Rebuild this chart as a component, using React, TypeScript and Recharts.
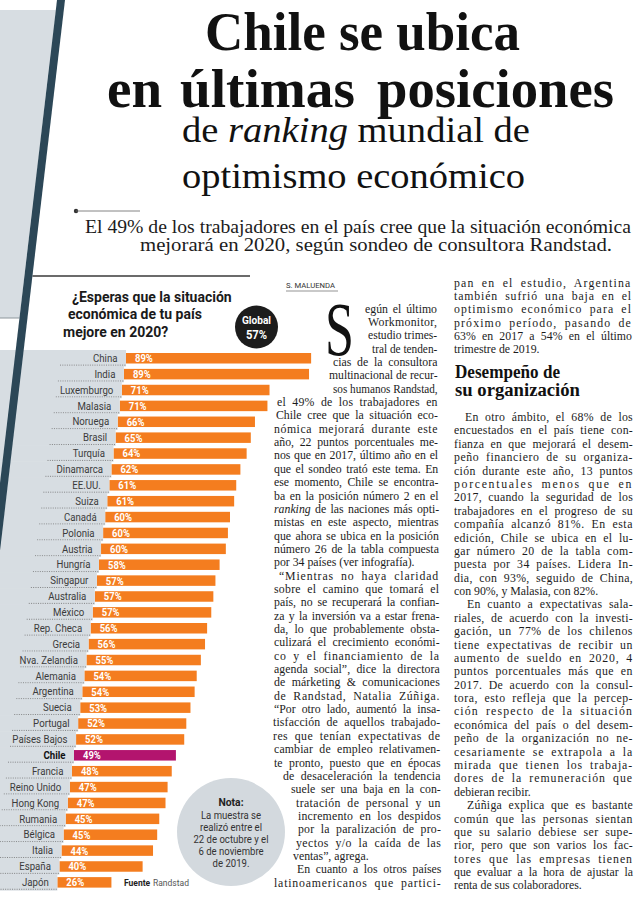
import React from 'react';
import { BarChart, Bar, XAxis, YAxis } from 'recharts';

// ---------- chart data ----------
const countries = [
  'China', 'India', 'Luxemburgo', 'Malasia', 'Noruega', 'Brasil', 'Turquía', 'Dinamarca',
  'EE.UU.', 'Suiza', 'Canadá', 'Polonia', 'Austria', 'Hungría', 'Singapur', 'Australia',
  'México', 'Rep. Checa', 'Grecia', 'Nva. Zelandia', 'Alemania', 'Argentina', 'Suecia',
  'Portugal', 'Países Bajos', 'Chile', 'Francia', 'Reino Unido', 'Hong Kong', 'Rumania',
  'Bélgica', 'Italia', 'España', 'Japón',
];
const optimism = [
  89, 89, 71, 71, 66, 65, 64, 62, 61, 61, 60, 60, 60, 58, 57, 57, 57, 56, 56, 55, 54, 54, 53,
  52, 52, 49, 48, 47, 47, 45, 45, 44, 40, 26,
];
const highlightCountry = 'Chile';
const globalAverage = 57;
const chartTitle = ['¿Esperas que la situación', 'económica de tu país', 'mejore en 2020?'];
const noteLines = ['La muestra se', 'realizó entre el', '22 de octubre y el', '6 de noviembre', 'de 2019.'];

const data = countries.map((country, i) => ({ country, value: optimism[i] }));

// ---------- article text ----------
const headline = { l1: 'Chile se ubica', l2: ['en', 'últimas', 'posiciones'], l3: ['de ', 'ranking', ' mundial de'], l4: 'optimismo económico' };
const dek = [
  'El 49% de los trabajadores en el país cree que la situación económica',
  'mejorará en 2020, según sondeo de consultora Randstad.',
];

// [left, text, isParagraphEnd]
const columnB: [number, string, boolean?][] = [
  [365, 'egún el último'],
  [368, 'Workmonitor,'],
  [368, 'estudio trimes-'],
  [372, 'tral de tenden-'],
  [333, 'cias de la consultora'],
  [329, 'multinacional de recur-'],
  [333, 'sos humanos Randstad,'],
  [277, 'el 49% de los trabajadores en'],
  [276, 'Chile cree que la situación eco-'],
  [274, 'nómica mejorará durante este'],
  [274, 'año, 22 puntos porcentuales me-'],
  [274, 'nos que en 2017, último año en el'],
  [274, 'que el sondeo trató este tema. En'],
  [274, 'ese momento, Chile se encontra-'],
  [274, 'ba en la posición número 2 en el'],
  [274, '*ranking* de las naciones más opti-'],
  [274, 'mistas en este aspecto, mientras'],
  [274, 'que ahora se ubica en la posición'],
  [274, 'número 26 de la tabla compuesta'],
  [274, 'por 34 países (ver infografía).', true],
  [279, '“Mientras no haya claridad'],
  [274, 'sobre el camino que tomará el'],
  [274, 'país, no se recuperará la confian-'],
  [274, 'za y la inversión va a estar frena-'],
  [274, 'da, lo que probablemente obsta-'],
  [274, 'culizará el crecimiento económi-'],
  [274, 'co y el financiamiento de la'],
  [274, 'agenda social”, dice la directora'],
  [274, 'de márketing & comunicaciones'],
  [274, 'de Randstad, Natalia Zúñiga.'],
  [274, '“Por otro lado, aumentó la insa-'],
  [273, 'tisfacción de aquellos trabajado-'],
  [273, 'res que tenían expectativas de'],
  [274, 'cambiar de empleo relativamen-'],
  [274, 'te pronto, puesto que en épocas'],
  [283, 'de desaceleración la tendencia'],
  [291, 'suele ser una baja en la con-'],
  [296, 'tratación de personal y un'],
  [298, 'incremento en los despidos'],
  [298, 'por la paralización de pro-'],
  [296, 'yectos y/o la caída de las'],
  [293, 'ventas”, agrega.', true],
  [297, 'En cuanto a los otros países'],
  [274, 'latinoamericanos que partici-'],
];

const columnCTop: [number, string, boolean?][] = [
  [454, 'pan en el estudio, Argentina'],
  [454, 'también sufrió una baja en el'],
  [454, 'optimismo económico para el'],
  [454, 'próximo período, pasando de'],
  [454, '63% en 2017 a 54% en el último'],
  [454, 'trimestre de 2019.', true],
];
const sectionHead = ['Desempeño de', 'su organización'];
const columnC: [number, string, boolean?][] = [
  [465, 'En otro ámbito, el 68% de los'],
  [454, 'encuestados en el país tiene con-'],
  [454, 'fianza en que mejorará el desem-'],
  [454, 'peño financiero de su organiza-'],
  [454, 'ción durante este año, 13 puntos'],
  [454, 'porcentuales menos que en'],
  [454, '2017, cuando la seguridad de los'],
  [454, 'trabajadores en el progreso de su'],
  [454, 'compañía alcanzó 81%. En esta'],
  [454, 'edición, Chile se ubica en el lu-'],
  [454, 'gar número 20 de la tabla com-'],
  [454, 'puesta por 34 países. Lidera In-'],
  [454, 'dia, con 93%, seguido de China,'],
  [454, 'con 90%, y Malasia, con 82%.', true],
  [467, 'En cuanto a expectativas sala-'],
  [454, 'riales, de acuerdo con la investi-'],
  [454, 'gación, un 77% de los chilenos'],
  [454, 'tiene expectativas de recibir un'],
  [454, 'aumento de sueldo en 2020, 4'],
  [454, 'puntos porcentuales más que en'],
  [454, '2017. De acuerdo con la consul-'],
  [454, 'tora, esto refleja que la percep-'],
  [454, 'ción respecto de la situación'],
  [454, 'económica del país o del desem-'],
  [454, 'peño de la organización no ne-'],
  [454, 'cesariamente se extrapola a la'],
  [454, 'mirada que tienen los trabaja-'],
  [454, 'dores de la remuneración que'],
  [454, 'debieran recibir.', true],
  [467, 'Zúñiga explica que es bastante'],
  [454, 'común que las personas sientan'],
  [454, 'que su salario debiese ser supe-'],
  [454, 'rior, pero que son varios los fac-'],
  [454, 'tores que las empresas tienen'],
  [454, 'que evaluar a la hora de ajustar la'],
  [454, 'renta de sus colaboradores.', true],
];

// ---------- styles ----------
const ORANGE = '#f47d1f';
const MAGENTA = '#b3146e';
const PANEL = '#d7dde2';
const NOTE_BG = '#d3d9de';
const STRIPE = '#2c4757';
const INK = '#1c1c1c';
const SERIF_NAME = 'Liberation Serif';
const SERIF = '"Liberation Serif", "Times New Roman", serif';
const SANS = 'Roboto, "Open Sans", sans-serif';
const BODY_SIZE = 11.8;

const CHART_TOP = 300;
const CHART_W = 340;
const CHART_H = 600;
const MARGIN = { top: 50, right: 6, bottom: 10, left: 0 };
const AXIS_W = 126;
const ROW = (CHART_H - MARGIN.top - MARGIN.bottom) / countries.length;
const SLANT = 0.131;
const STEP = ROW * SLANT;

let measureCtx: CanvasRenderingContext2D | null = null;
const measure = (text: string, font: string) => {
  if (typeof document === 'undefined') return text.length * 5;
  if (!measureCtx) measureCtx = document.createElement('canvas').getContext('2d');
  if (!measureCtx) return text.length * 5;
  measureCtx.font = font;
  return measureCtx.measureText(text).width;
};

const CountryTick = (props: any) => {
  const { y, payload } = props;
  const i = countries.indexOf(payload.value);
  const start = AXIS_W - i * STEP;
  const hi = payload.value === highlightCountry;
  return (
    <g>
      <rect x={0} y={y - ROW / 2} width={start} height={ROW + 0.6} fill={PANEL} />
      <line x1={start - 66} x2={start} y1={y + 7.2} y2={y + 7.2} stroke="#6c6c6c" strokeWidth={0.8} strokeDasharray="1 1.3" />
      <text
        transform={`translate(${start - 8.5},${y + 4}) scale(0.84,1)`}
        textAnchor="end"
        fontFamily={SANS}
        fontSize={11.5}
        fontWeight={hi ? 700 : 400}
        fill={hi ? '#111' : '#3b3b3b'}
      >
        {payload.value}
      </text>
    </g>
  );
};

const SlantBar = (props: any) => {
  const { x, y, width, height, payload } = props;
  const i = countries.indexOf(payload.country);
  const dx = -i * STEP;
  const hi = payload.country === highlightCountry;
  return (
    <g>
      <rect x={x + dx} y={y} width={width} height={height} fill={hi ? MAGENTA : ORANGE} />
      <text
        transform={`translate(${x + dx + 9},${y + height / 2 + 3.9}) scale(0.86,1)`}
        fontFamily={SANS}
        fontSize={11}
        fontWeight={700}
        fill="#fff"
      >
        {payload.value}%
      </text>
    </g>
  );
};

const rich = (t: string) =>
  t.split('*').map((s, k) =>
    k % 2 ? (
      <tspan key={k} fontStyle="italic">{s}</tspan>
    ) : (
      <tspan key={k}>{s}</tspan>
    )
  );

const BodyLine = ({ left, right, base, text, end }: { left: number; right: number; base: number; text: string; end?: boolean }) => {
  const plain = text.replace(/\*/g, '');
  const target = right - left;
  const extra: Record<string, any> = {};
  if (!end) {
    const nat = measure(plain, `${BODY_SIZE}px "${SERIF_NAME}"`);
    const spaces = (plain.match(/ /g) || []).length;
    const gap = target - nat;
    if (gap >= 0) {
      const ws = spaces > 0 ? Math.min(gap / spaces, 3.2) : 0;
      const rest = gap - ws * spaces;
      extra.wordSpacing = ws;
      if (rest > 0.2) extra.letterSpacing = rest / plain.length;
    } else {
      extra.textLength = target;
      extra.lengthAdjust = 'spacingAndGlyphs';
    }
  }
  return (
    <text x={left} y={base} fontFamily={SERIF} fontSize={BODY_SIZE} fill={INK} {...extra}>
      {rich(text)}
    </text>
  );
};

export default function App() {
  return (
    <div style={{ position: 'absolute', left: 0, top: 0, width: 637, height: 907, background: '#fff', overflow: 'hidden' }}>
      {/* page layer */}
      <svg width={637} height={907} style={{ position: 'absolute', left: 0, top: 0 }}>
        {/* top-left panel */}
        <polygon points={`0,10 ${57 - 0.118 * 10},10 ${57 - 0.118 * 318},318 0,318`} fill={PANEL} />
        <line x1={0} x2={57 - 0.118 * 318} y1={318} y2={318} stroke="#8d969c" strokeWidth={1} />

        {/* headline */}
        <text x={205} y={50} textLength={315} lengthAdjust="spacingAndGlyphs" fontFamily={SERIF} fontWeight={700} fontSize={54} fill="#111">
          {headline.l1}
        </text>
        <text x={107} y={107} textLength={55} lengthAdjust="spacingAndGlyphs" fontFamily={SERIF} fontWeight={700} fontSize={54} fill="#111">
          {headline.l2[0]}
        </text>
        <text x={180} y={107} textLength={175} lengthAdjust="spacingAndGlyphs" fontFamily={SERIF} fontWeight={700} fontSize={54} fill="#111">
          {headline.l2[1]}
        </text>
        <text x={377} y={107} textLength={237} lengthAdjust="spacingAndGlyphs" fontFamily={SERIF} fontWeight={700} fontSize={54} fill="#111">
          {headline.l2[2]}
        </text>
        <text x={182} y={142} textLength={348} lengthAdjust="spacingAndGlyphs" fontFamily={SERIF} fontSize={35} fill="#111">
          <tspan>{headline.l3[0]}</tspan>
          <tspan fontStyle="italic">{headline.l3[1]}</tspan>
          <tspan>{headline.l3[2]}</tspan>
        </text>
        <text x={182} y={188} textLength={343} lengthAdjust="spacingAndGlyphs" fontFamily={SERIF} fontSize={35} fill="#111">
          {headline.l4}
        </text>

        {/* bullet + dek */}
        <circle cx={76} cy={211} r={2.2} fill="#333" />
        <line x1={76} x2={140} y1={211} y2={211} stroke="#666" strokeWidth={0.8} />
        <text x={85} y={233} textLength={546} lengthAdjust="spacingAndGlyphs" fontFamily={SERIF} fontSize={19.5} fill={INK}>
          {dek[0]}
        </text>
        <text x={140} y={251} textLength={472} lengthAdjust="spacingAndGlyphs" fontFamily={SERIF} fontSize={19.5} fill={INK}>
          {dek[1]}
        </text>

        {/* rule */}
        <line x1={65 - 0.118 * 276} x2={250} y1={276} y2={276} stroke="#3a3a3a" strokeWidth={1.3} />

        {/* chart title */}
        {chartTitle.map((t, k) => (
          <text key={k} x={[72, 68, 63][k]} y={[301.5, 318.5, 336.5][k]} fontFamily={SANS} fontWeight={700} fontSize={14} fill="#1a1a1a">
            {t}
          </text>
        ))}
        <circle cx={256.5} cy={327} r={21.5} fill="#1c1c1c" />
        <text transform="translate(256.5,323.5) scale(0.88,1)" textAnchor="middle" fontFamily={SANS} fontWeight={700} fontSize={11.5} fill="#fff">
          Global
        </text>
        <text transform="translate(256.5,338.5) scale(0.9,1)" textAnchor="middle" fontFamily={SANS} fontWeight={700} fontSize={12.5} fill="#fff">
          {globalAverage}%
        </text>

        {/* byline */}
        <text x={286} y={288} textLength={49} lengthAdjust="spacingAndGlyphs" fontFamily={SANS} fontSize={8} fill="#333">
          S. MALUENDA
        </text>
        <line x1={286} x2={338} y1={291} y2={291} stroke="#666" strokeWidth={0.7} />

        {/* note */}
        <circle cx={231} cy={832} r={54} fill={NOTE_BG} />
        <text transform="translate(231,806) scale(0.9,1)" textAnchor="middle" fontFamily={SANS} fontWeight={700} fontSize={11.5} fill="#222">
          Nota:
        </text>
        {noteLines.map((t, k) => (
          <text key={k} transform={`translate(231,${819 + k * 11.9}) scale(0.87,1)`} textAnchor="middle" fontFamily={SANS} fontSize={11} fill="#333">
            {t}
          </text>
        ))}

        {/* source */}
        <text x={124} y={886} fontFamily={SANS} fontWeight={700} fontSize={8.5} fill="#222">
          Fuente
        </text>
        <text x={153} y={886} fontFamily={SANS} fontSize={8.5} fill="#555">
          Randstad
        </text>

        {/* drop cap */}
        <text x={325} y={355} textLength={29} lengthAdjust="spacingAndGlyphs" fontFamily={SERIF} fontSize={76} fill="#111">
          S
        </text>

        {/* column B */}
        {columnB.map(([left, t, end], i) => (
          <BodyLine key={i} left={left} right={437 + (i / 43) * 4.5} base={309 + i * 13.35 + 3.6} text={t} end={end} />
        ))}

        {/* column C */}
        {columnCTop.map(([left, t, end], i) => (
          <BodyLine key={i} left={left} right={632} base={283 + i * 13.35 + 3.6} text={t} end={end} />
        ))}
        <text x={455} y={378} textLength={105} lengthAdjust="spacingAndGlyphs" fontFamily={SERIF} fontWeight={700} fontSize={18} fill="#111">
          {sectionHead[0]}
        </text>
        <text x={455} y={395.5} textLength={125} lengthAdjust="spacingAndGlyphs" fontFamily={SERIF} fontWeight={700} fontSize={18} fill="#111">
          {sectionHead[1]}
        </text>
        {columnC.map(([left, t, end], i) => (
          <BodyLine key={i} left={left} right={633} base={417.5 + i * 13.38 + 3.6} text={t} end={end} />
        ))}
      </svg>

      {/* chart layer */}
      <div style={{ position: 'absolute', left: 0, top: CHART_TOP, width: CHART_W, height: CHART_H }}>
        <BarChart width={CHART_W} height={CHART_H} data={data} layout="vertical" margin={MARGIN}>
          <XAxis type="number" domain={[0, 100]} hide />
          <YAxis
            type="category"
            dataKey="country"
            width={AXIS_W}
            axisLine={false}
            tickLine={false}
            interval={0}
            tick={(p: any) => <CountryTick {...p} />}
          />
          <Bar dataKey="value" barSize={10.5} isAnimationActive={false} shape={(p: any) => <SlantBar {...p} />} />
        </BarChart>
      </div>

      {/* stripe overlay */}
      <svg width={637} height={907} style={{ position: 'absolute', left: 0, top: 0, pointerEvents: 'none' }}>
        <polygon points={`57,0 65,0 0,${65 / 0.118} 0,${57 / 0.118}`} fill={STRIPE} />
      </svg>
    </div>
  );
}
